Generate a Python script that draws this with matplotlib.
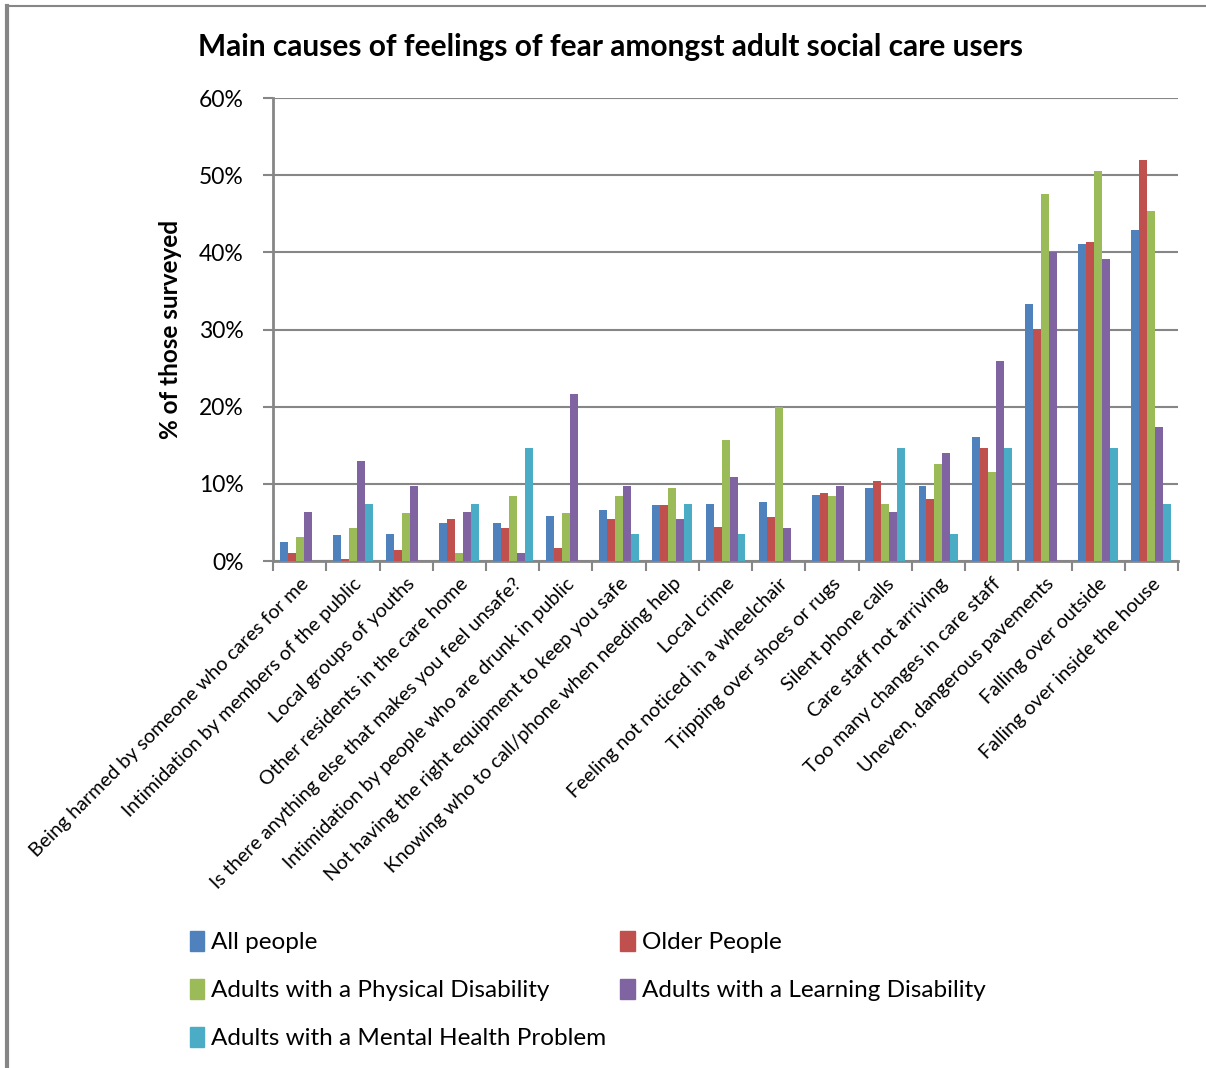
import matplotlib
matplotlib.use('Agg')
import matplotlib.pyplot as plt
from matplotlib.patches import Patch
from matplotlib.lines import Line2D
import numpy as np

plt.rcParams['font.family'] = ['Lato', 'DejaVu Sans']

causes = ['Being harmed by someone who cares for me',
          'Intimidation by members of the public',
          'Local groups of youths',
          'Other residents in the care home',
          'Is there anything else that makes you feel unsafe?',
          'Intimidation by people who are drunk in public',
          'Not having the right equipment to keep you safe',
          'Knowing who to call/phone when needing help',
          'Local crime',
          'Feeling not noticed in a wheelchair',
          'Tripping over shoes or rugs',
          'Silent phone calls',
          'Care staff not arriving',
          'Too many changes in care staff',
          'Uneven, dangerous pavements',
          'Falling over outside',
          'Falling over inside the house']

nan = np.nan
all_people = [2.5, 3.4, 3.5, 4.9, 4.9, 5.8, 6.6, 7.3, 7.4, 7.7, 8.6, 9.4, 9.7, 16.1, 33.3, 41.1, 42.9]
older      = [1.0, 0.3, 1.4, 5.4, 4.3, 1.7, 5.4, 7.3, 4.4, 5.7, 8.8, 10.4, 8.0, 14.7, 30.1, 41.3, 52.0]
physical   = [3.1, 4.3, 6.2, 1.0, 8.4, 6.2, 8.4, 9.4, 15.7, 20.0, 8.4, 7.4, 12.6, 11.5, 47.5, 50.5, 45.3]
learning   = [6.4, 13.0, 9.7, 6.4, 1.0, 21.7, 9.7, 5.4, 10.9, 4.3, 9.7, 6.4, 14.0, 25.9, 40.0, 39.1, 17.4]
mental     = [nan, 7.4, nan, 7.4, 14.7, nan, 3.5, 7.4, 3.5, nan, nan, 14.7, 3.5, 14.7, nan, 14.7, 7.4]

series = [('All people', all_people, '#4F81BD'),
          ('Older People', older, '#C0504D'),
          ('Adults with a Physical Disability', physical, '#9BBB59'),
          ('Adults with a Learning Disability', learning, '#8064A2'),
          ('Adults with a Mental Health Problem', mental, '#4BACC6')]

fig = plt.figure(figsize=(12.06, 10.68), dpi=100)
ax = fig.add_axes([0.2264, 0.4747, 0.7504, 0.4335])

x = np.arange(len(causes))
w = 0.15
for i, (name, vals, col) in enumerate(series):
    ax.bar(x + (i - 2) * w, vals, w, color=col, label=name, zorder=3)

ax.set_xlim(-0.5, len(causes) - 0.5)
ax.set_ylim(0, 60)
ax.set_yticks(np.arange(0, 61, 10))
ax.set_yticklabels(['%d%%' % v for v in range(0, 61, 10)], fontsize=16.5)
ax.yaxis.grid(True, color='#868686', linewidth=1.5, zorder=0)
ax.tick_params(axis='y', length=7, width=1.5, color='#868686', pad=14)

ax.set_xticks(x)
ax.set_xticklabels(causes, rotation=45, ha='right', rotation_mode='anchor', fontsize=14.2)
ax.tick_params(axis='x', which='major', length=0, pad=10)
ax.set_xticks(np.arange(-0.5, len(causes)), minor=True)
ax.tick_params(axis='x', which='minor', length=7, width=1.5, color='#868686')

for s in ['top', 'right']:
    ax.spines[s].set_visible(False)
for s in ['left', 'bottom']:
    ax.spines[s].set_color('#868686')
    ax.spines[s].set_linewidth(2)

ax.set_ylabel('% of those surveyed', fontsize=17.5, fontweight='bold', labelpad=12)
fig.text(0.506, 0.956, 'Main causes of feelings of fear amongst adult social care users',
         ha='center', va='center', fontsize=21.5, fontweight='bold')

# outer chart frame (left and top edges only visible)
fig.add_artist(Line2D([0.006, 0.006], [0, 0.9945], color='#868686', lw=3))
fig.add_artist(Line2D([0.006, 0.999], [0.9945, 0.9945], color='#868686', lw=1.5))

h = [Patch(color=c) for _, _, c in series]
lab = [n for n, _, _ in series]
fig.legend([h[0], h[2], h[4]], [lab[0], lab[2], lab[4]], loc='upper left',
           bbox_to_anchor=(0.139, 0.149), frameon=False, fontsize=17.5,
           handlelength=0.6, handleheight=0.9, handletextpad=0.3, labelspacing=1.05)
fig.legend([h[1], h[3]], [lab[1], lab[3]], loc='upper left',
           bbox_to_anchor=(0.496, 0.149), frameon=False, fontsize=17.5,
           handlelength=0.6, handleheight=0.9, handletextpad=0.3, labelspacing=1.05)

fig.savefig('out.png', dpi=100)
